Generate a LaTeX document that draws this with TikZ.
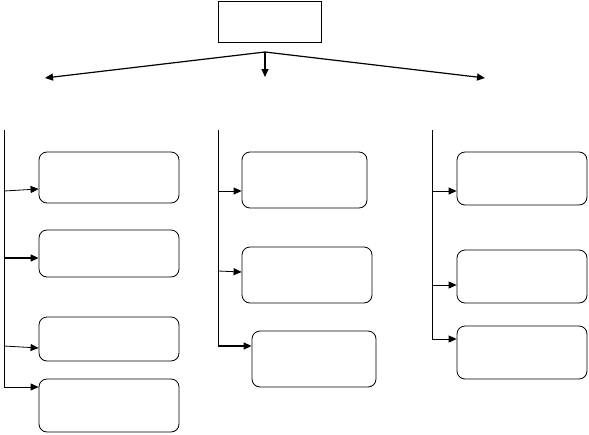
\documentclass[tikz,border=0pt]{standalone}
\usetikzlibrary{arrows.meta}

\begin{document}
\begin{tikzpicture}[
  x=1pt, y=-1pt,
  >={Triangle[length=8pt,width=7pt]},
  topbox/.style={draw, line width=0.9pt, minimum width=103pt, minimum height=41pt, inner sep=0pt},
  item/.style={draw, rounded corners=8pt, line width=0.8pt, inner sep=0pt},
  spine/.style={line width=0.8pt},
  conn/.style={->, line width=0.8pt},
  thick conn/.style={->, line width=1.6pt},
  fan/.style={->, line width=1.2pt}
]
  \useasboundingbox (0,0) rectangle (589,434);

  \node[topbox] (top) at (269.5,21.5) {};
  \coordinate (fork) at (265,52);
  \coordinate (tipl) at (45,78);
  \coordinate (tipm) at (265,77);
  \coordinate (tipr) at (485,78);

  % left column
  \node[item, minimum width=140pt, minimum height=51pt] (l1) at (109,177.5) {};
  \node[item, minimum width=140pt, minimum height=47pt] (l2) at (109,253.5) {};
  \node[item, minimum width=140pt, minimum height=44pt] (l3) at (109,339) {};
  \node[item, minimum width=140pt, minimum height=53pt] (l4) at (109,405.5) {};

  % middle column
  \node[item, minimum width=125pt, minimum height=56pt] (m1) at (304.5,180) {};
  \node[item, minimum width=130pt, minimum height=56pt] (m2) at (307,275) {};
  \node[item, minimum width=124pt, minimum height=56pt] (m3) at (314,359) {};

  % right column
  \node[item, minimum width=130pt, minimum height=53pt] (r1) at (522,178.5) {};
  \node[item, minimum width=130pt, minimum height=53pt] (r2) at (522,276.5) {};
  \node[item, minimum width=130pt, minimum height=53pt] (r3) at (522,352.5) {};

  \coordinate (ltop) at (4,130);
  \coordinate (a1) at (4,191);
  \coordinate (a2) at (4,258);
  \coordinate (a3) at (4,346);
  \coordinate (a4) at (4,387);

  \coordinate (mtop) at (218,130);
  \coordinate (b1) at (218,191);
  \coordinate (b2) at (218,271);
  \coordinate (b3) at (218,346);

  \coordinate (rtop) at (432,130);
  \coordinate (c1) at (432,191);
  \coordinate (c2) at (432,285);
  \coordinate (c3) at (432,339);

  \draw[fan] (fork) -- (tipl);
  \draw[fan] (fork) -- (tipm);
  \draw[fan] (fork) -- (tipr);

  \draw[spine] (ltop) -- (a4);
  \draw[spine] (mtop) -- (b3);
  \draw[spine] (rtop) -- (c3);

  \draw[conn] (a1) -- ([yshift=-11.5pt]l1.west);
  \draw[thick conn] (a2) -- ([yshift=-4.5pt]l2.west);
  \draw[conn] (a3) -- ([yshift=-9pt]l3.west);
  \draw[conn] (a4) -- ([yshift=18.5pt]l4.west);

  \draw[conn] (b1) -- ([yshift=-11pt]m1.west);
  \draw[conn] (b2) -- ([yshift=3pt]m2.west);
  \draw[thick conn] (b3) -- ([yshift=13pt]m3.west);

  \draw[conn] (c1) -- ([yshift=-12.5pt]r1.west);
  \draw[conn] (c2) -- ([yshift=-8.5pt]r2.west);
  \draw[conn] (c3) -- ([yshift=13.5pt]r3.west);
\end{tikzpicture}
\end{document}
